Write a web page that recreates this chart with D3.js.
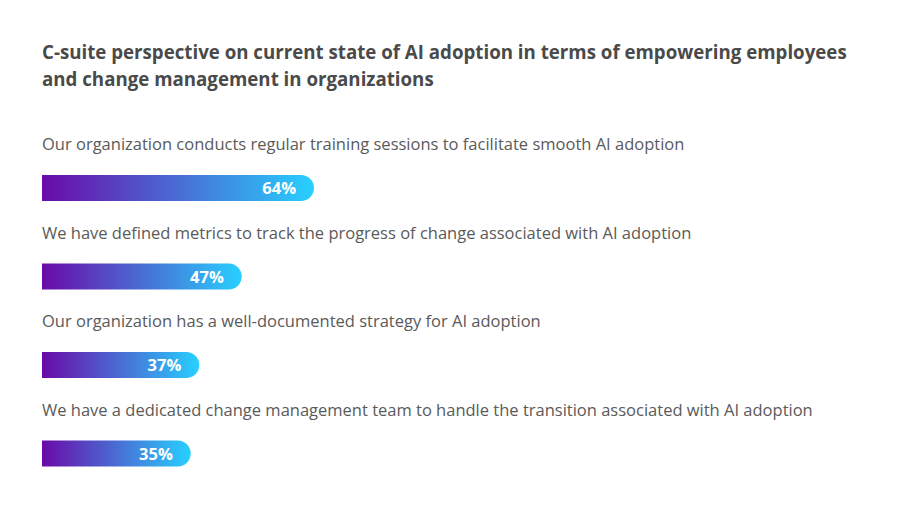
<!DOCTYPE html>
<html><head><meta charset="utf-8">
<script src="https://cdn.jsdelivr.net/npm/d3@7"></script>
<style>body{margin:0;background:#fff;}svg{display:block;}</style>
</head><body>
<script>
const titleLines = ["C-suite perspective on current state of AI adoption in terms of empowering employees","and change management in organizations"];
const categories = [
 "Our organization conducts regular training sessions to facilitate smooth AI adoption",
 "We have defined metrics to track the progress of change associated with AI adoption",
 "Our organization has a well-documented strategy for AI adoption",
 "We have a dedicated change management team to handle the transition associated with AI adoption"
];
const values = [64, 47, 37, 35];

const W = 900, H = 511;
const svg = d3.select("body").append("svg").attr("width", W).attr("height", H);
const font = "'Open Sans', sans-serif";

svg.selectAll("text.title").data(titleLines).join("text")
  .attr("x", 42).attr("y", (d,i)=>59 + i*27)
  .attr("font-family", font).attr("font-weight", 700).attr("font-size", 18.7)
  .attr("fill", "#4a4a4a").text(d=>d);

const x = d3.scaleLinear().domain([0,100]).range([42, 467]);
const y = d3.scaleBand().domain(d3.range(categories.length)).range([120, 474]);

const defs = svg.append("defs");
const g = svg.append("g");
const rows = g.selectAll("g.row").data(values.map((v,i)=>({v, i, c: categories[i]}))).join("g");

rows.append("text")
  .attr("x", 42).attr("y", d=>y(d.i)+30)
  .attr("font-family", font).attr("font-size", 16.5).attr("fill", "#5a5a5a")
  .text(d=>d.c);

rows.each(function(d){
  const gr = defs.append("linearGradient").attr("id","grad"+d.i)
    .attr("x1","0%").attr("x2","100%");
  gr.append("stop").attr("offset","0%").attr("stop-color","#6a0aa8");
  gr.append("stop").attr("offset","100%").attr("stop-color","#28d0ff");
});

const bh = 26, r = 13;
rows.append("path")
  .attr("fill", d=>"url(#grad"+d.i+")")
  .attr("d", d=>{
    const x0 = x(0), x1 = x(d.v), y0 = y(d.i)+55;
    return `M${x0},${y0}H${x1-r}A${r},${r} 0 0 1 ${x1},${y0+r}A${r},${r} 0 0 1 ${x1-r},${y0+bh}H${x0}Z`;
  });

rows.append("text")
  .attr("x", d=>x(d.v)-18).attr("y", d=>y(d.i)+55+bh/2+6)
  .attr("text-anchor","end")
  .attr("font-family", font).attr("font-weight", 700).attr("font-size", 16.5)
  .attr("fill", "#fff").text(d=>d.v+"%");
</script>
</body></html>
